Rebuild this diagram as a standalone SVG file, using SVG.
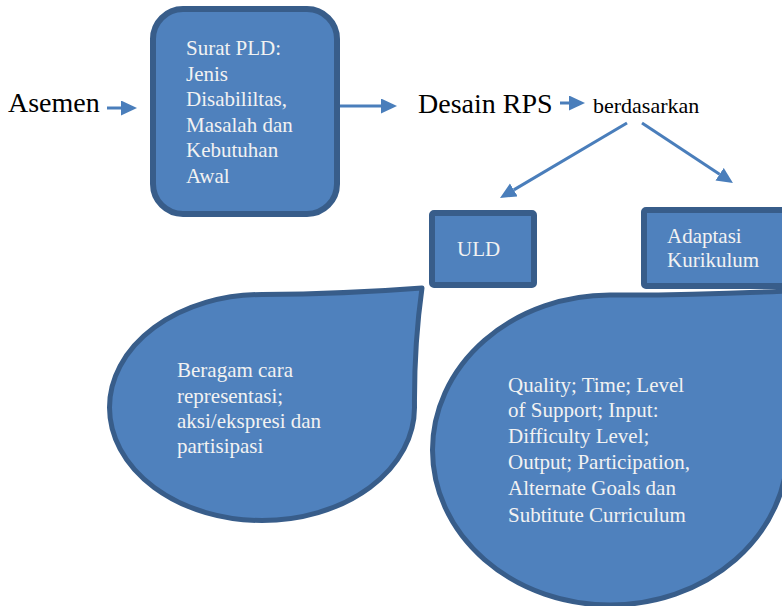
<svg xmlns="http://www.w3.org/2000/svg" width="782" height="606" viewBox="0 0 782 606">
<style>
.shape{fill:#4F81BD;stroke:#385D8A;stroke-width:5;stroke-linejoin:round}
.box{fill:#4F81BD;stroke:#385D8A;stroke-width:6}
.lbl{font-family:"Liberation Serif","Times New Roman",serif;font-size:21px;fill:#F2F2F2}
.big{font-family:"Liberation Serif","Times New Roman",serif;font-size:28px;fill:#000}
.small{font-family:"Liberation Serif","Times New Roman",serif;font-size:22px;fill:#000}
.conn line{stroke:#4A7EBB;stroke-width:3;marker-end:url(#ah)}
</style>
<defs>
<marker id="ah" markerUnits="userSpaceOnUse" markerWidth="17" markerHeight="16" refX="0" refY="7.5" orient="auto">
<path d="M0,0 L16,7.5 L0,15 Z" fill="#4A7EBB"/>
</marker>
</defs>
<rect width="782" height="606" fill="#fff"/>

<g id="asemen"><text class="big" x="8" y="112">Asemen</text></g>

<g id="surat-pld">
<rect class="box" x="153" y="9" width="184" height="205" rx="30" ry="30"/>
<text class="lbl" x="186" y="55">Surat PLD:</text>
<text class="lbl" x="186" y="81">Jenis</text>
<text class="lbl" x="186" y="106">Disabililtas,</text>
<text class="lbl" x="186" y="132">Masalah dan</text>
<text class="lbl" x="186" y="157">Kebutuhan</text>
<text class="lbl" x="186" y="183">Awal</text>
</g>

<g id="desain-rps"><text class="big" x="418" y="113">Desain RPS</text></g>
<g id="berdasarkan"><text class="small" x="593" y="113">berdasarkan</text></g>

<g id="uld">
<rect class="box" x="432" y="213" width="102" height="72" rx="2"/>
<text class="lbl" x="457" y="256">ULD</text>
</g>

<g id="adaptasi">
<rect class="box" x="644" y="210" width="160" height="76" rx="2"/>
<text class="lbl" x="667" y="243">Adaptasi</text>
<text class="lbl" x="667" y="267">Kurikulum</text>
</g>

<g id="uld-detail">
<path class="shape" d="M109.5,407.5 A152.5,113 0 0 1 262,294.5 Q345,294 422,288 Q414,345 414.5,407.5 A152.5,113 0 0 1 262,520.5 A152.5,113 0 0 1 109.5,407.5 Z"/>
<text class="lbl" x="177" y="377">Beragam cara</text>
<text class="lbl" x="177" y="403">representasi;</text>
<text class="lbl" x="177" y="428">aksi/ekspresi dan</text>
<text class="lbl" x="177" y="453">partisipasi</text>
</g>

<g id="adaptasi-detail">
<path class="shape" d="M432.5,450 A177.5,155 0 0 1 610,295 Q700,295.5 805,290 Q788,370 787.5,450 A177.5,155 0 0 1 610,605 A177.5,155 0 0 1 432.5,450 Z"/>
<text class="lbl" x="508" y="392">Quality; Time; Level</text>
<text class="lbl" x="508" y="417">of Support; Input:</text>
<text class="lbl" x="508" y="443">Difficulty Level;</text>
<text class="lbl" x="508" y="469">Output; Participation,</text>
<text class="lbl" x="508" y="495">Alternate Goals dan</text>
<text class="lbl" x="508" y="522">Subtitute Curriculum</text>
</g>

<g id="connectors" class="conn">
<line x1="107" y1="108" x2="121" y2="108"/>
<line x1="340" y1="106" x2="381" y2="106"/>
<line x1="560" y1="103" x2="569" y2="103"/>
<line x1="627" y1="123" x2="513.8" y2="189.9"/>
<line x1="642" y1="123" x2="719.6" y2="174.2"/>
</g>
</svg>
